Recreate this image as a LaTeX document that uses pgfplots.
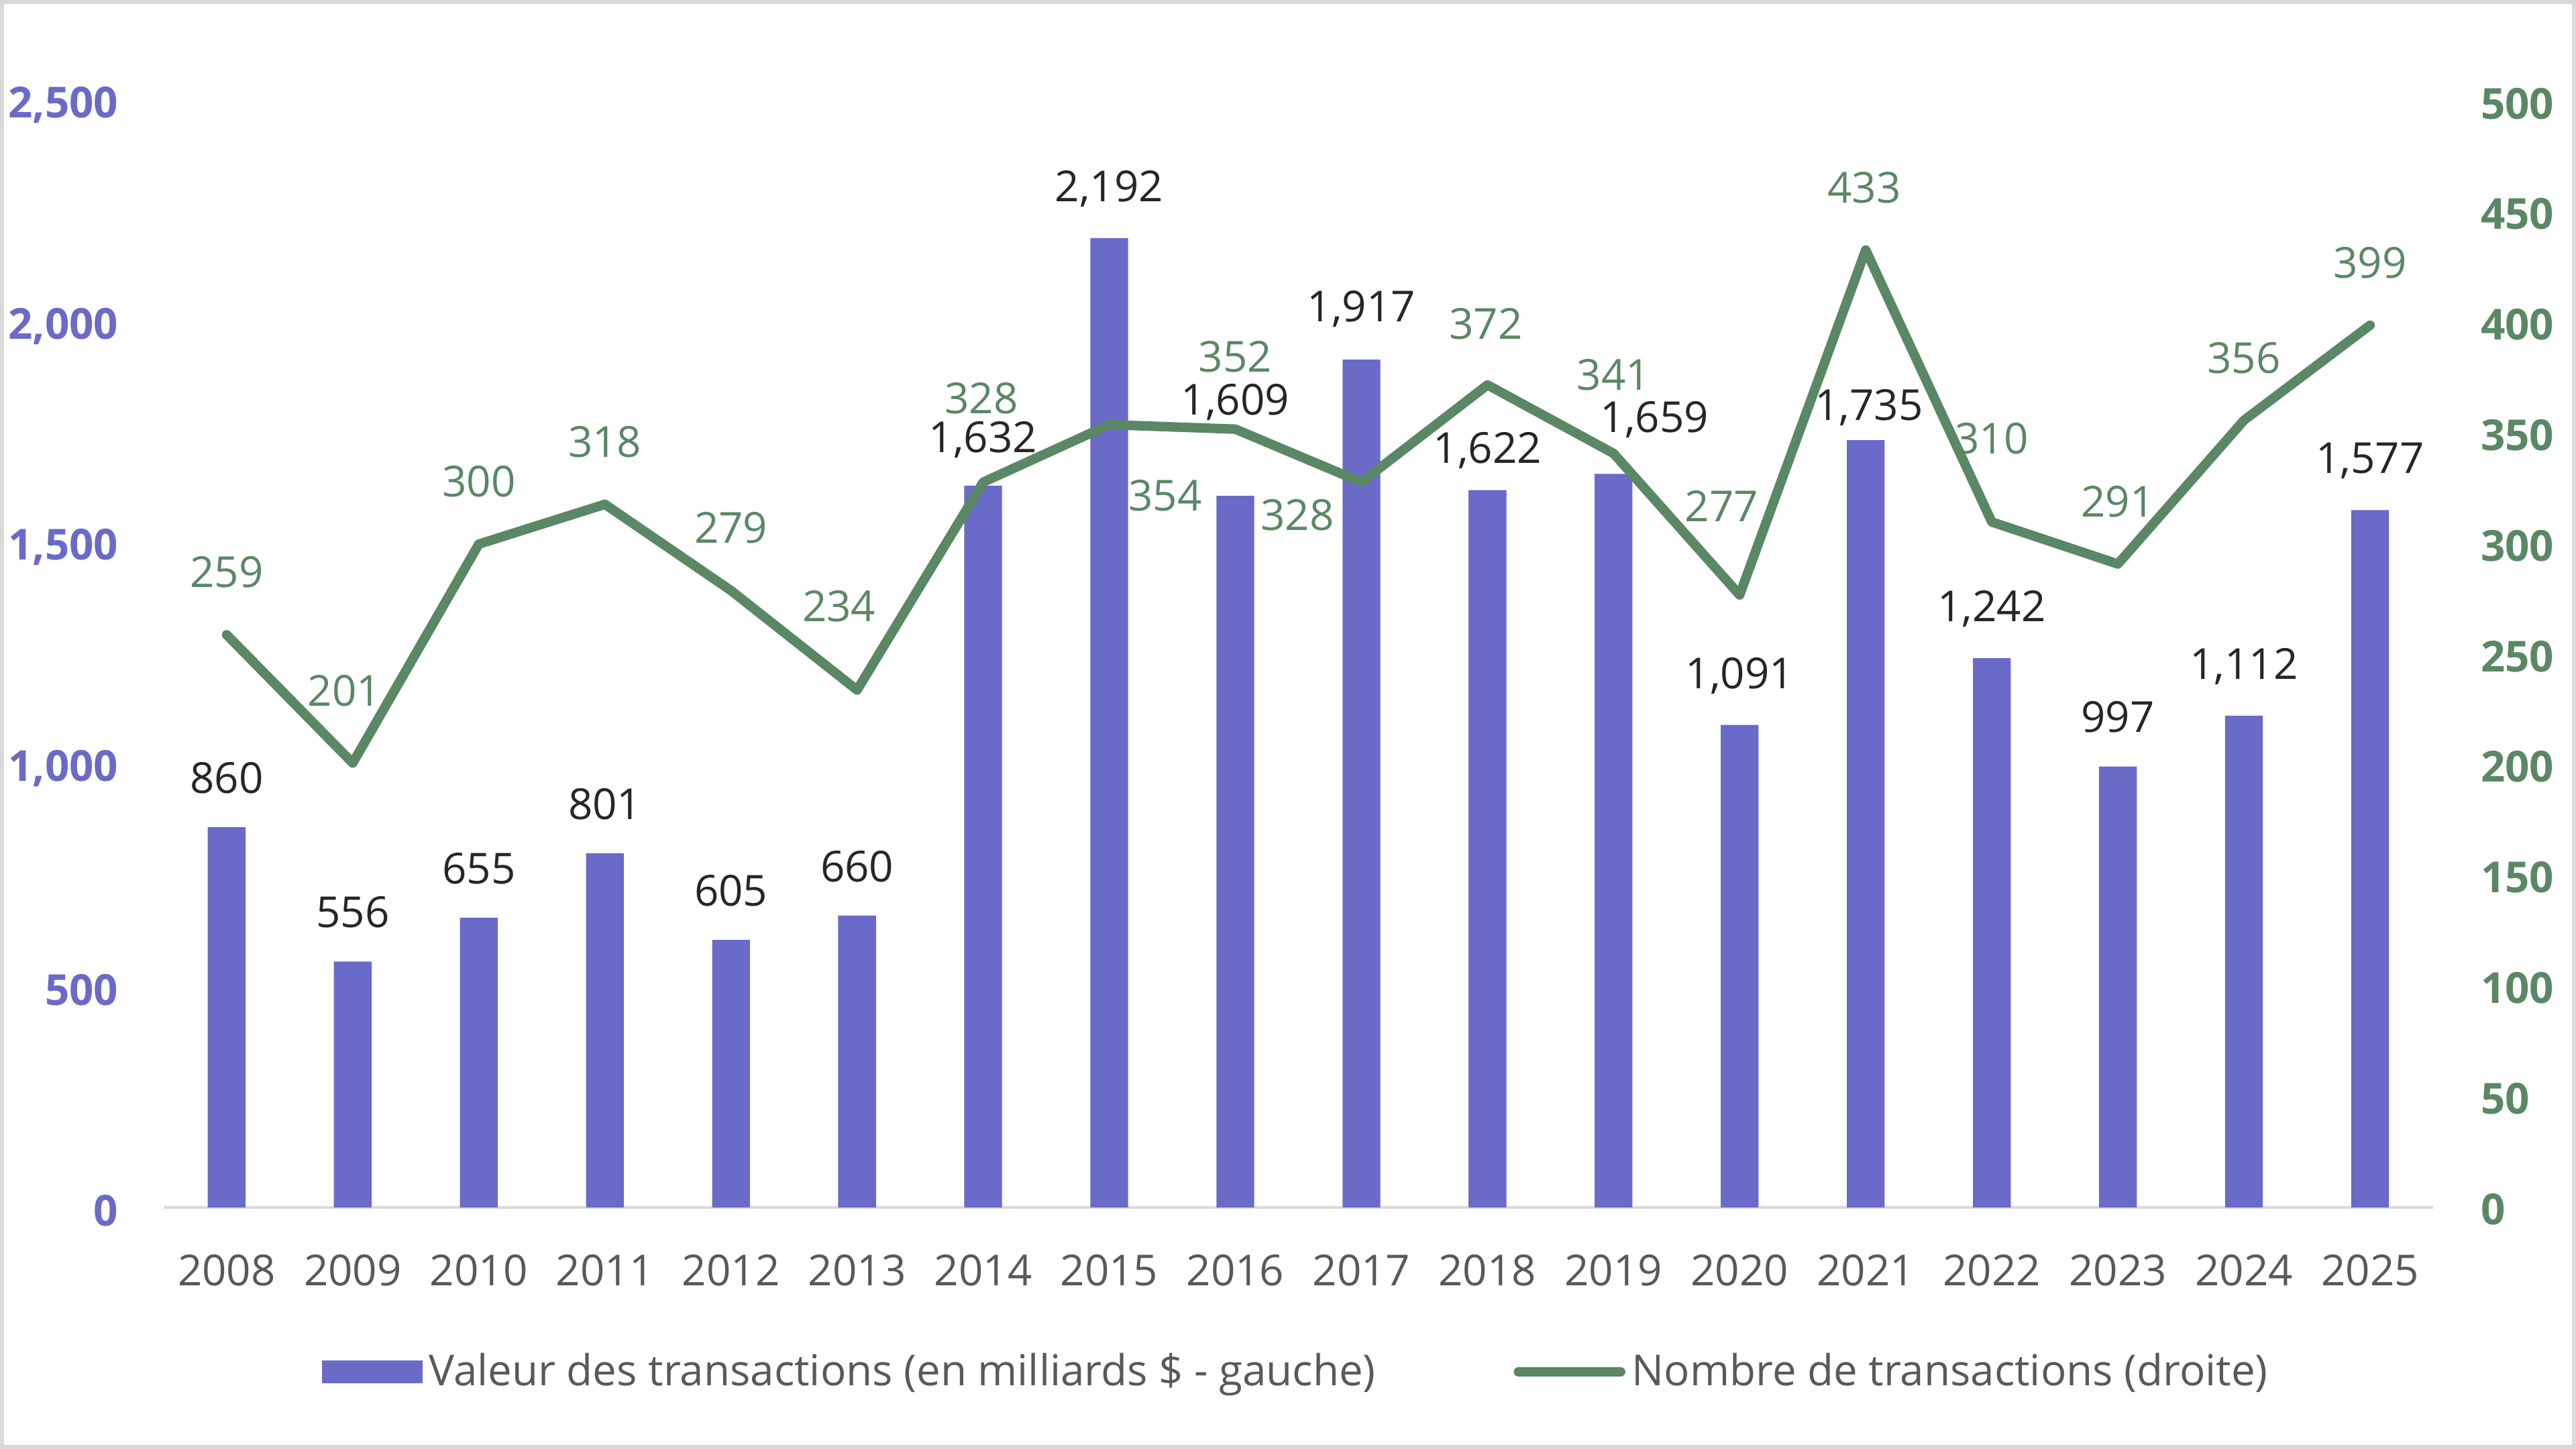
\documentclass[border=0pt]{standalone}
\usepackage{fontspec}
\setmainfont{Open Sans}
\usepackage{pgfplots}
\pgfplotsset{compat=1.18}
\usepackage{pgfplotstable}
\definecolor{barcol}{HTML}{6A6AC8}
\definecolor{linecol}{HTML}{5A8764}
\definecolor{tickgray}{HTML}{595959}
\definecolor{lblgray}{HTML}{262626}
\definecolor{framegray}{HTML}{D9D9D9}
\newcommand\fs{\fontsize{13}{15.6}\selectfont}
\pgfkeys{/pgf/number format/.cd,1000 sep={,},assume math mode=true}

\pgfplotstableread{
x v dx dy
0 860 0 15
1 556 0 15
2 655 0 15
3 801 0 15
4 605 0 15
5 660 0 15
6 1632 0 14
7 2192 0 15
8 1609 0 28.5
9 1917 0 15.5
10 1622 0 12
11 1659 12.5 16.5
12 1091 0 15
13 1735 1 10
14 1242 0 15
15 997 0 15
16 1112 0 15
17 1577 0 15
}\bartable

\pgfplotstableread{
x v dx dy
0 259 0 19
1 201 -2.5 22
2 300 0 19
3 318 0 19
4 279 0 19
5 234 -5.5 25.5
6 328 -0.5 25.5
7 354 17 -21.5
8 352 0 22
9 328 -19.5 -10
10 372 -0.5 18.5
11 341 0 24
12 277 -5.5 27
13 433 -0.5 19
14 310 0 25.5
15 291 0 19
16 356 0 19
17 399 0 19
}\linetable

\begin{document}
\begin{tikzpicture}
\useasboundingbox (0,0) rectangle (784pt,441pt);
\draw[framegray, line width=1.2pt] (0.6pt,0.6pt) rectangle (783.4pt,440.4pt);
\begin{axis}[name=main,
  at={(49.8pt,73.5pt)}, anchor=south west,
  scale only axis, width=690.7pt, height=336.5pt,
  xmin=-0.5, xmax=17.5, ymin=0, ymax=2500,
  xtick={0,...,17},
  xticklabels={2008,2009,2010,2011,2012,2013,2014,2015,2016,2017,2018,2019,2020,2021,2022,2023,2024,2025},
  ytick={0,500,1000,1500,2000,2500},
  axis x line*=bottom, axis y line*=left,
  y axis line style={draw=none},
  x axis line style={framegray, line width=0.9pt},
  major tick length=0pt,
  scaled y ticks=false,
  yticklabel style={font=\fs\bfseries, text=barcol, xshift=-10.3pt, yshift=-1pt},
  xticklabel style={font=\fs, text=tickgray, yshift=-10.9pt},
  legend style={at={(0.5,-0.1486)}, anchor=center, draw=none, fill=none,
    font=\fs, text=tickgray, legend columns=2,
    /tikz/every even column/.append style={column sep=40pt}},
  legend cell align=left,
  clip=false,
]
\addplot[ybar, bar width=11.5pt, fill=barcol, draw=none,
  nodes near coords, point meta=explicit,
  visualization depends on={\thisrow{dx} \as \dx},
  visualization depends on={\thisrow{dy} \as \dy},
  every node near coord/.append style={font=\fs, text=lblgray, anchor=center, xshift=\dx pt, yshift=\dy pt},
  legend image code/.code={\fill[barcol] (0pt,-3.5pt) rectangle (30.5pt,3.5pt);}
] table[x=x, y=v, meta=v] \bartable;
\addlegendentry{Valeur des transactions (en milliards \$ - gauche)}
\addlegendimage{legend image code/.code={\draw[linecol, line width=3pt, line cap=round] (0pt,0pt) -- (31pt,0pt);}}
\addlegendentry{Nombre de transactions (droite)}
\end{axis}
\begin{axis}[
  at={(49.8pt,73.5pt)}, anchor=south west,
  scale only axis, width=690.7pt, height=336.5pt,
  xmin=-0.5, xmax=17.5, ymin=0, ymax=500,
  axis x line=none, axis y line*=right,
  y axis line style={draw=none},
  major tick length=0pt,
  ytick={0,50,100,150,200,250,300,350,400,450,500},
  yticklabel style={font=\fs\bfseries, text=linecol, xshift=11pt, yshift=-0.5pt},
  clip=false,
]
\addplot[linecol, line width=2.9pt, line join=round, line cap=round, mark=none,
  nodes near coords, point meta=explicit,
  visualization depends on={\thisrow{dx} \as \dx},
  visualization depends on={\thisrow{dy} \as \dy},
  every node near coord/.append style={font=\fs, text=linecol, anchor=center, xshift=\dx pt, yshift=\dy pt}
] table[x=x, y=v, meta=v] \linetable;
\end{axis}
\end{tikzpicture}
\end{document}
